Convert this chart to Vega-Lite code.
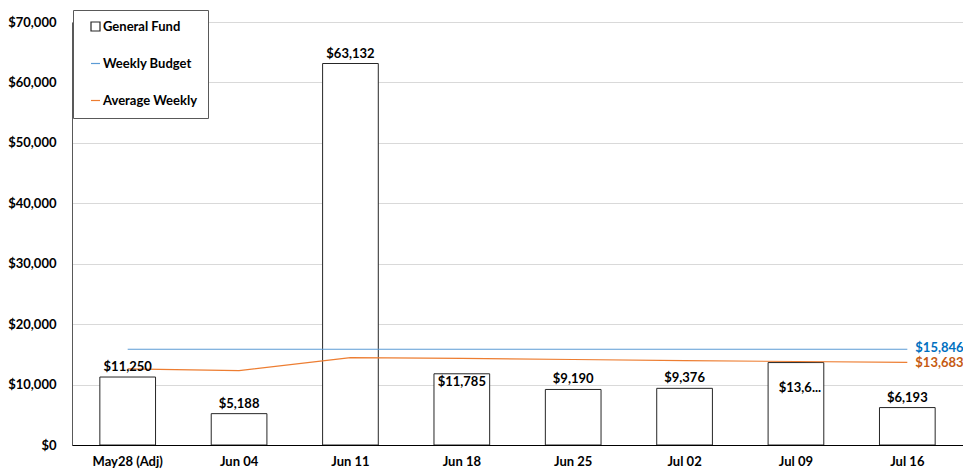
{
  "$schema": "https://vega.github.io/schema/vega-lite/v6.json",
  "autosize": {"type": "none"},
  "padding": {"left": 72, "top": 22, "right": 0, "bottom": 27},
  "width": 891,
  "height": 423,
  "datasets": {
    "bars": [
      {"week": "May28 (Adj)", "series": "General Fund", "value": 11250},
      {"week": "Jun 04", "series": "General Fund", "value": 5188},
      {"week": "Jun 11", "series": "General Fund", "value": 63132},
      {"week": "Jun 18", "series": "General Fund", "value": 11785},
      {"week": "Jun 25", "series": "General Fund", "value": 9190},
      {"week": "Jul 02", "series": "General Fund", "value": 9376},
      {"week": "Jul 09", "series": "General Fund", "value": 13640},
      {"week": "Jul 16", "series": "General Fund", "value": 6193}
    ],
    "lines": [
      {"week": "May28 (Adj)", "series": "Weekly Budget", "value": 15846},
      {"week": "Jun 04", "series": "Weekly Budget", "value": 15846},
      {"week": "Jun 11", "series": "Weekly Budget", "value": 15846},
      {"week": "Jun 18", "series": "Weekly Budget", "value": 15846},
      {"week": "Jun 25", "series": "Weekly Budget", "value": 15846},
      {"week": "Jul 02", "series": "Weekly Budget", "value": 15846},
      {"week": "Jul 09", "series": "Weekly Budget", "value": 15846},
      {"week": "Jul 16", "series": "Weekly Budget", "value": 15846},
      {"week": "May28 (Adj)", "series": "Average Weekly", "value": 12600},
      {"week": "Jun 04", "series": "Average Weekly", "value": 12300},
      {"week": "Jun 11", "series": "Average Weekly", "value": 14450},
      {"week": "Jun 18", "series": "Average Weekly", "value": 14350},
      {"week": "Jun 25", "series": "Average Weekly", "value": 14150},
      {"week": "Jul 02", "series": "Average Weekly", "value": 13950},
      {"week": "Jul 09", "series": "Average Weekly", "value": 13820},
      {"week": "Jul 16", "series": "Average Weekly", "value": 13683}
    ]
  },
  "encoding": {
    "x": {
      "field": "week", "type": "nominal", "sort": null,
      "scale": {"domain": ["May28 (Adj)", "Jun 04", "Jun 11", "Jun 18", "Jun 25", "Jul 02", "Jul 09", "Jul 16"], "paddingInner": 0.5, "paddingOuter": 0.25},
      "axis": {"title": null, "labelAngle": 0, "ticks": false, "labelPadding": 10, "domainColor": "#000000", "domainWidth": 1.2, "grid": false, "zindex": 1}
    },
    "y": {
      "field": "value", "type": "quantitative",
      "scale": {"domain": [0, 70000], "nice": false},
      "axis": {"title": null, "values": [0, 10000, 20000, 30000, 40000, 50000, 60000, 70000], "format": "$,.0f", "ticks": false, "labelPadding": 16, "domainColor": "#595959", "gridColor": "#d9d9d9", "grid": true}
    }
  },
  "layer": [
    {
      "data": {"name": "bars"},
      "mark": {"type": "bar", "fill": "white", "strokeWidth": 1},
      "encoding": {
        "stroke": {
          "field": "series", "type": "nominal",
          "scale": {"domain": ["General Fund", "Weekly Budget", "Average Weekly"], "range": ["#262626", "#5b9bd5", "#ed7d31"]},
          "legend": {
            "title": null, "orient": "none", "legendX": 1, "legendY": -12,
            "fillColor": "white", "strokeColor": "#595959", "padding": 10,
            "rowPadding": 23, "symbolOffset": 6, "labelOffset": 1,
            "symbolSize": 81, "symbolStrokeWidth": 1.2, "symbolFillColor": "transparent",
            "symbolType": {"expr": "datum.value === 'General Fund' ? 'square' : 'stroke'"}
          }
        }
      }
    },
    {
      "data": {"name": "lines"},
      "mark": {"type": "line", "strokeWidth": 1.2},
      "encoding": {
        "stroke": {"field": "series", "type": "nominal"}
      }
    },
    {
      "data": {"name": "bars"},
      "transform": [{"filter": "datum.week !== 'Jun 18' && datum.week !== 'Jul 09'"}],
      "mark": {"type": "text", "baseline": "alphabetic", "dy": -6, "fontWeight": "bold", "fontSize": 13, "color": "black"},
      "encoding": {"text": {"field": "value", "type": "quantitative", "format": "$,.0f"}}
    },
    {
      "data": {"name": "bars"},
      "transform": [{"filter": "datum.week === 'Jun 18'"}],
      "mark": {"type": "text", "baseline": "top", "dy": 2, "fontWeight": "bold", "fontSize": 13, "color": "black"},
      "encoding": {"text": {"field": "value", "type": "quantitative", "format": "$,.0f"}}
    },
    {
      "data": {"name": "bars"},
      "transform": [{"filter": "datum.week === 'Jul 09'"}],
      "mark": {"type": "text", "baseline": "middle", "dy": 25, "dx": 4, "limit": 46, "ellipsis": "...", "fontWeight": "bold", "fontSize": 13, "color": "black"},
      "encoding": {"text": {"field": "value", "type": "quantitative", "format": "$,.0f"}}
    },
    {
      "data": {"name": "lines"},
      "transform": [{"filter": "datum.week === 'Jul 16' && datum.series === 'Weekly Budget'"}],
      "mark": {"type": "text", "align": "left", "baseline": "middle", "dx": 8, "dy": -1, "fontWeight": "bold", "fontSize": 13, "color": "#0070c0"},
      "encoding": {
        "text": {"field": "value", "type": "quantitative", "format": "$,.0f"}
      }
    },
    {
      "data": {"name": "lines"},
      "transform": [{"filter": "datum.week === 'Jul 16' && datum.series === 'Average Weekly'"}],
      "mark": {"type": "text", "align": "left", "baseline": "middle", "dx": 8, "dy": 1, "fontWeight": "bold", "fontSize": 13, "color": "#c55a11"},
      "encoding": {
        "text": {"field": "value", "type": "quantitative", "format": "$,.0f"}
      }
    }
  ],
  "config": {
    "view": {"stroke": null},
    "font": "Lato",
    "axis": {"labelFont": "Lato", "labelFontSize": 13, "labelFontWeight": "bold", "labelColor": "#000000"},
    "legend": {"labelFont": "Lato", "labelFontSize": 13, "labelFontWeight": "bold", "labelColor": "#000000"},
    "text": {"font": "Lato"}
  }
}
